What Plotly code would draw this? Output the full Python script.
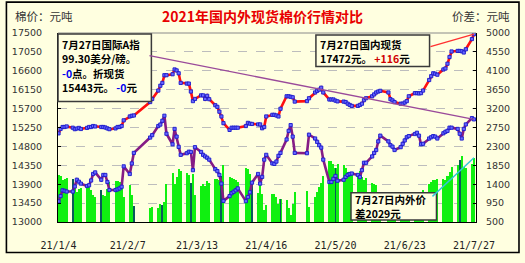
import pandas as pd
import plotly.graph_objects as go

# ---------------- data ----------------
holidays = ["2021-02-11", "2021-02-12", "2021-02-15", "2021-02-16", "2021-02-17",
            "2021-04-05", "2021-05-03", "2021-05-04", "2021-05-05", "2021-06-14"]
dates = [d for d in pd.bdate_range("2021-01-04", "2021-07-27")
         if d.strftime("%Y-%m-%d") not in holidays]

# 国内现货 (元/吨)
domestic = [
    15110, 15215, 15262, 15262, 15275, 15245, 15210, 15225, 15240, 15215,
    15240, 15262, 15262, 15285, 15275, 15262, 15262, 15250, 15228, 15210,
    15228, 15262, 15262, 15285, 15420, 15513, 15530, 15536, 15856, 15930,
    16130, 16245, 16312, 16495, 16495,
    16518, 16632, 16609, 16541, 16312, 16296, 16296, 16107, 15878, 15930,
    16015, 16015, 15930, 16005, 15924, 15780, 15741, 15627, 15513, 15353,
    15193, 15245, 15245,
    15245, 15245, 15285, 15360, 15340, 15335, 15323, 15323, 15232, 15262,
    15513, 15552, 15552, 15536, 15513, 15696, 15993, 15993, 15981, 15970, 15867,
    15878, 15947, 16084, 16123, 16152, 16198, 16084, 15917, 15917, 15917,
    15890, 15872, 15867, 15856, 15817, 15787, 15764, 15764,
    15787, 15817, 15901, 15947, 15993, 16038, 16084, 16107, 16123, 16084,
    15924, 15895, 15856, 15817, 15817, 15844, 15878, 15993, 16068, 16068, 16061,
    16068, 16130, 16381, 16472, 16541, 16530, 16507, 16632, 16655, 16769,
    16929, 17060, 17073, 17073, 17066, 17036, 17112, 17356, 17472,
]
# 国际A指折现货 (元/吨)
international = [
    13491, 13617, 13754, 13743, 13725, 13725, 13846, 14006, 13960, 13914,
    13857, 13875, 13989, 14143, 14181, 14006, 14120, 14120, 13953, 13761,
    13761, 13777, 13800, 13839, 14325, 14143, 14394, 14645, 15011, 15068,
    15285, 15320, 15410, 15530, 15102,
    14851, 15216, 15033, 14789, 14599, 14638, 14674, 14668, 14234, 14782,
    14668, 14599, 14561, 14531, 14485, 14257, 14211, 14120, 13914, 13503,
    13617, 13686, 13720,
    13754, 13800, 13496, 13594, 13708, 13937, 14143, 13914, 14074, 14485,
    14599, 14394, 14383, 14439, 14576, 14645, 14965, 15170, 15307, 15033, 14645,
    14638, 15079, 14988, 14908, 14828, 14771, 14485, 13953, 13953, 14028,
    14097, 13983, 14006, 14074, 14120, 14143, 14154, 14120,
    14068, 14234, 14410, 14410, 14561, 14645, 14714, 14919, 15056, 14919,
    14828, 14794, 14714, 14782, 14862, 14942, 15018, 15045, 15095, 15125, 15056,
    14851, 14862, 14988, 15018, 15045, 15033, 14988, 15113, 15148, 15170,
    15246, 15246, 15216, 15102, 14988, 15216, 15323, 15474, 15443,
]
# 内外价差 (元/吨) = 国内 - 国际
spread = [a - b for a, b in zip(domestic, international)]

mark_dates = ["2021-01-11", "2021-01-25", "2021-02-10", "2021-02-24", "2021-03-10",
              "2021-03-25", "2021-04-09", "2021-04-23", "2021-05-20", "2021-07-20"]
date_keys = [d.strftime("%Y-%m-%d") for d in dates]
mark_vals = [spread[date_keys.index(m)] for m in mark_dates]

tick_dates = ["2021-01-04", "2021-02-07", "2021-03-13", "2021-04-16",
              "2021-05-20", "2021-06-23", "2021-07-27"]
tick_labels = ["21/1/4", "21/2/7", "21/3/13", "21/4/16", "21/5/20", "21/6/23", "21/7/27"]
left_ticks = [13000, 13450, 13900, 14350, 14800, 15250, 15700, 16150, 16600, 17050, 17500]
right_ticks = [500, 950, 1400, 1850, 2300, 2750, 3200, 3650, 4100, 4550, 5000]

# ---------------- geometry helpers (pixels -> paper) ----------------
W, H = 525, 263
L, R, T, B = 53, 476, 33, 230
def px(x):
    return (x - L) / (R - L)
def py(y):
    return (B - y) / (B - T)

BG = "#FFFFE0"
CJK = "Noto Sans CJK SC"

fig = go.Figure()
fig.add_trace(go.Bar(x=dates, y=spread, yaxis="y", width=86400000 * 1.0,
                     marker=dict(color="#10F010", line=dict(width=0)), hoverinfo="skip"))
fig.add_trace(go.Bar(x=mark_dates, y=mark_vals, yaxis="y", width=86400000 * 0.45,
                     marker=dict(color="#0A5A5A", line=dict(width=0)), hoverinfo="skip"))
mk = dict(symbol="square", size=3.2, color="#6A6AFF", line=dict(color="#1A1ACC", width=0.9))
fig.add_trace(go.Scatter(x=dates, y=domestic, yaxis="y2", mode="lines+markers",
                         line=dict(color="#FF1010", width=2.6), marker=mk))
fig.add_trace(go.Scatter(x=dates, y=international, yaxis="y2", mode="lines+markers",
                         line=dict(color="#851C85", width=2.6), marker=mk))

tickfont = dict(family="DejaVu Sans", size=9.5, color="#333333")
fig.update_layout(
    width=W, height=H, margin=dict(l=L, r=W - R, t=T, b=H - B),
    paper_bgcolor=BG, plot_bgcolor=BG, showlegend=False,
    barmode="overlay", bargap=0,
    xaxis=dict(type="date", range=["2021-01-03 18:00", "2021-07-28 00:00"],
               tickvals=tick_dates, ticktext=tick_labels, showgrid=False,
               showline=True, linecolor="#000000", linewidth=1, ticks="",
               tickfont=dict(family="DejaVu Sans Mono", size=10, color="#222222"),
               ticklabelstandoff=14, zeroline=False),
    yaxis=dict(side="right", range=[500, 5000], tickvals=right_ticks,
               ticktext=[str(v) for v in right_ticks],
               showgrid=True, gridcolor="#BDBDBD", griddash="dash", gridwidth=1,
               ticks="inside", ticklen=3, tickcolor="#000000",
               showline=True, linecolor="#000000", linewidth=1,
               tickfont=tickfont, ticklabelstandoff=7, zeroline=False),
    yaxis2=dict(overlaying="y", side="left", range=[13000, 17500], tickvals=left_ticks,
                ticktext=[str(v) for v in left_ticks],
                showgrid=False, ticks="inside", ticklen=3, tickcolor="#000000",
                showline=True, linecolor="#000000", linewidth=1,
                tickfont=tickfont, ticklabelstandoff=13, zeroline=False),
)

shapes = []
shapes.append(dict(type="line", xref="paper", yref="paper", x0=0, x1=1, y0=1, y1=1,
                   line=dict(color="#8A8A8A", width=1), layer="above"))
for (x0, y0, x1, y1) in [(53, 34, 147.5, 104.5), (314, 35, 429, 68), (349.5, 199.5, 436, 228)]:
    shapes.append(dict(type="rect", xref="paper", yref="paper",
                       x0=px(x0), x1=px(x1), y0=py(y1), y1=py(y0),
                       fillcolor=BG, line=dict(color="#3A3A3A", width=1.5), layer="above"))
shapes.append(dict(type="rect", xref="paper", yref="paper",
                   x0=px(0.8), x1=px(519.5), y0=py(261.8), y1=py(0.8),
                   line=dict(color="#000000", width=1.6), layer="above"))
fig.update_layout(shapes=shapes)

ann = []
def txt(x, y, s, size=10.5, color="#000000", xanchor="left", bold=True, family=CJK):
    t = f"<b>{s}</b>" if bold else s
    ann.append(dict(x=px(x), y=py(y), xref="paper", yref="paper", text=t, showarrow=False,
                    xanchor=xanchor, yanchor="middle", borderpad=0,
                    font=dict(family=family, size=size, color=color)))

txt(259.5, 15, "2021年国内外现货棉价行情对比", size=14, color="#E80000", xanchor="center")
txt(8, 15, "棉价：元吨", size=11.5, color="#333333", bold=False)
txt(511, 15, "价差：元吨", size=11.5, color="#333333", xanchor="right", bold=False)

blue = "#0000EE"
red = "#D00000"
txt(56, 45, "7月27日国际A指")
txt(56, 60, "99.30美分/磅。")
txt(56, 75, f"<span style='color:{blue}'>-0</span>点。折现货")
txt(56, 90, f"15443元。 <span style='color:{blue}'>-0</span>元")
txt(317, 44.5, "7月27日国内现货")
txt(317, 59.5, f"17472元。 <span style='color:{red}'>+116</span>元")
txt(352.5, 207, "7月27日内外价")
txt(352.5, 221.5, "差2029元")

ann.append(dict(x=dates[-1], y=international[-1], xref="x", yref="y2", text="",
                showarrow=True, arrowhead=0, arrowwidth=1.4, arrowcolor="#9A4A9A",
                ax=-326, ay=-64, standoff=0, startstandoff=0))
ann.append(dict(x=dates[-1], y=domestic[-1], xref="x", yref="y2", text="",
                showarrow=True, arrowhead=0, arrowwidth=1.3, arrowcolor="#FF3030",
                ax=-45, ay=13, standoff=0, startstandoff=0))
ann.append(dict(x=dates[-1], y=spread[-1], xref="x", yref="y", text="",
                showarrow=True, arrowhead=0, arrowwidth=1.4, arrowcolor="#30C8D8",
                ax=-43, ay=40, standoff=0, startstandoff=0))
fig.update_layout(annotations=ann)

fig.write_html("out.html")
